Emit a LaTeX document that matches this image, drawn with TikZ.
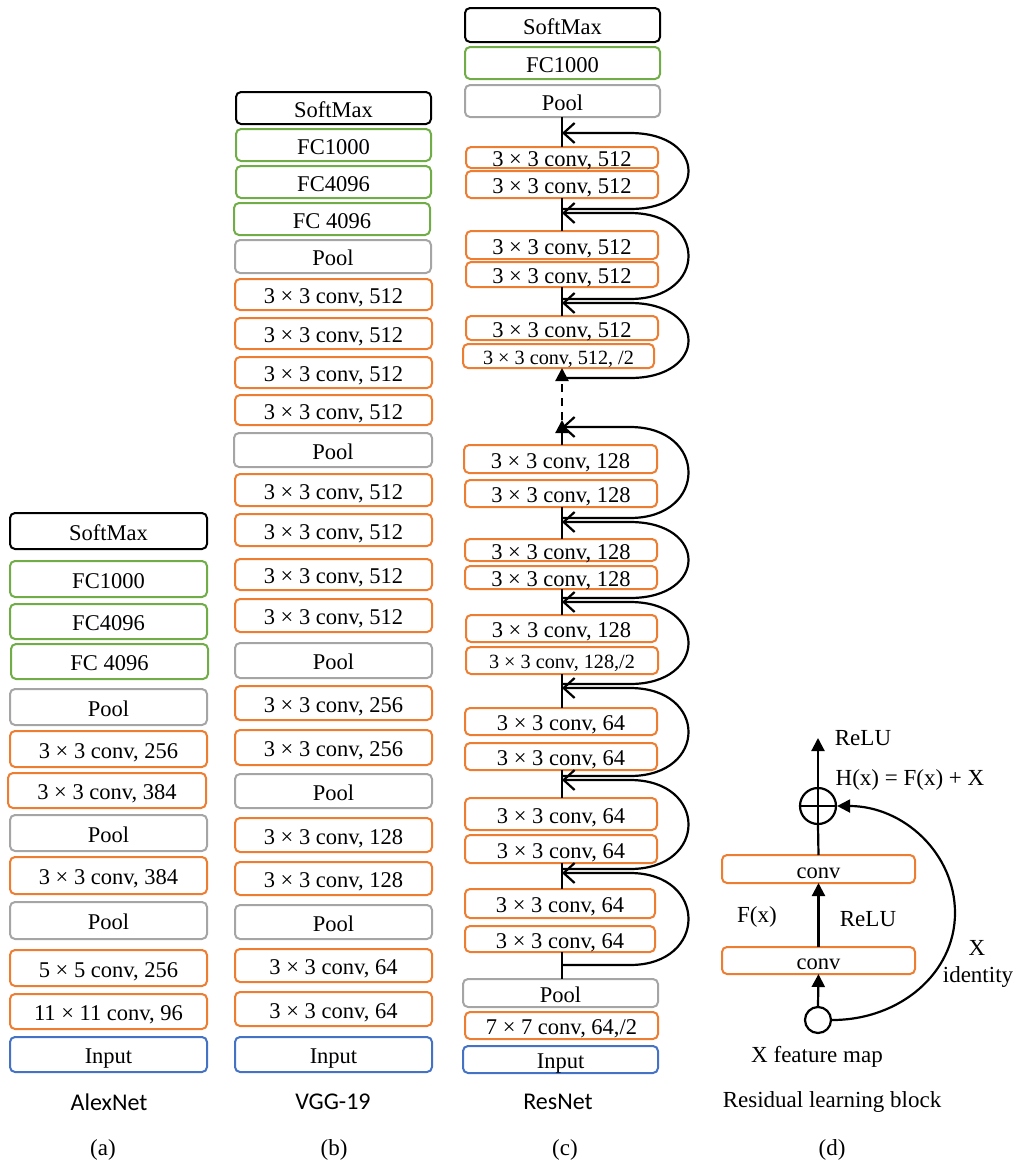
\documentclass[tikz,border=0pt]{standalone}
\usepackage{fontspec}
\setmainfont{Liberation Serif}
\newfontfamily\labelsans{Carlito}
\usetikzlibrary{arrows.meta,calc}
\definecolor{boxorange}{RGB}{237,125,49}
\definecolor{boxgreen}{RGB}{112,173,71}
\definecolor{boxgray}{RGB}{165,165,165}
\definecolor{boxblue}{RGB}{68,114,196}
\tikzset{
  box/.style={draw,rounded corners=5pt,line width=2pt,inner sep=0pt,outer sep=0pt,
    font=\fontsize{22.5}{24}\selectfont,text height=18pt,text depth=0pt},
  smalltxt/.style={font=\fontsize{20.2}{22}\selectfont,text height=16pt},
  ob/.style={draw=boxorange},
  gb/.style={draw=boxgreen},
  yb/.style={draw=boxgray},
  bb/.style={draw=boxblue},
  kb/.style={draw=black},
  conn/.style={line width=2.2pt},
  skiparrow/.style={line width=2.2pt,-{Straight Barb[length=11pt,width=20pt,line width=2.2pt]}},
  filltip/.style={line width=2.2pt,-{Triangle[length=13pt,width=13pt]}},
  lab/.style={font=\fontsize{23}{26}\selectfont},
  sanslab/.style={font=\labelsans\fontsize{24}{28}\selectfont},
}
\newcommand\bx[7]{\node[box,#2,minimum width={#5-#3},minimum height={#6-#4}] (#1) at ({(#3+#5)/2},{(#4+#6)/2}) {#7};}
\begin{document}
\begin{tikzpicture}[x=1pt,y=-1pt]
\useasboundingbox (0,0) rectangle (1020,1163);
% ---------------- AlexNet
\bx{asoft}{kb}{10}{513}{207}{549}{SoftMax}
\bx{afc1}{gb}{10}{561}{207}{597}{FC1000}
\bx{afc2}{gb}{10}{604}{207}{639}{FC4096}
\bx{afc3}{gb}{11}{644}{208}{679}{FC 4096}
\bx{apool1}{yb}{10}{689}{207}{725}{Pool}
\bx{aconv1}{ob}{10}{731}{207}{767}{3 × 3 conv, 256}
\bx{aconv2}{ob}{8}{773}{206}{808}{3 × 3 conv, 384}
\bx{apool2}{yb}{10}{815}{207}{851}{Pool}
\bx{aconv3}{ob}{10}{857}{207}{894}{3 × 3 conv, 384}
\bx{apool3}{yb}{10}{902}{207}{939}{Pool}
\bx{aconv4}{ob}{10}{950}{207}{986}{5 × 5 conv, 256}
\bx{aconv5}{ob}{10}{994}{207}{1029}{11 × 11 conv, 96}
\bx{ain}{bb}{10}{1037}{207}{1072}{Input}
\node[sanslab] (alab) at (109,1102) {AlexNet};
\node[lab] (acap) at (103,1150) {(a)};
% ---------------- VGG-19
\bx{vsoft}{kb}{236}{92}{431}{124}{SoftMax}
\bx{vfc1}{gb}{236}{129}{431}{161}{FC1000}
\bx{vfc2}{gb}{236}{166}{431}{198}{FC4096}
\bx{vfc3}{gb}{234}{203}{430}{235}{FC 4096}
\bx{vpool1}{yb}{235}{240}{431}{273}{Pool}
\bx{v1}{ob}{235}{279}{432}{310}{3 × 3 conv, 512}
\bx{v2}{ob}{235}{318}{432}{349}{3 × 3 conv, 512}
\bx{v3}{ob}{235}{357}{432}{388}{3 × 3 conv, 512}
\bx{v4}{ob}{235}{395}{432}{425}{3 × 3 conv, 512}
\bx{vpool2}{yb}{234}{433}{432}{467}{Pool}
\bx{v5}{ob}{235}{474}{432}{506}{3 × 3 conv, 512}
\bx{v6}{ob}{235}{514}{432}{546}{3 × 3 conv, 512}
\bx{v7}{ob}{235}{559}{432}{590}{3 × 3 conv, 512}
\bx{v8}{ob}{235}{599}{432}{632}{3 × 3 conv, 512}
\bx{vpool3}{yb}{235}{643}{432}{678}{Pool}
\bx{v9}{ob}{235}{686}{432}{720}{3 × 3 conv, 256}
\bx{v10}{ob}{235}{730}{432}{765}{3 × 3 conv, 256}
\bx{vpool4}{yb}{235}{774}{432}{808}{Pool}
\bx{v11}{ob}{235}{818}{432}{852}{3 × 3 conv, 128}
\bx{v12}{ob}{235}{862}{432}{895}{3 × 3 conv, 128}
\bx{vpool5}{yb}{235}{905}{432}{939}{Pool}
\bx{v13}{ob}{235}{949}{432}{982}{3 × 3 conv, 64}
\bx{v14}{ob}{235}{992}{432}{1026}{3 × 3 conv, 64}
\bx{vin}{bb}{235}{1037}{432}{1072}{Input}
\node[sanslab] (vlab) at (333,1102) {VGG-19};
\node[lab] (vcap) at (334,1150) {(b)};
% ---------------- ResNet
\bx{rsoft}{kb}{465}{8}{660}{42}{SoftMax}
\bx{rfc}{gb}{465}{47}{660}{79}{FC1000}
\bx{rpool1}{yb}{465}{85}{660}{117}{Pool}
\bx{c512a}{ob}{466}{147}{658}{168}{3 × 3 conv, 512}
\bx{c512b}{ob}{466}{171}{658}{198}{3 × 3 conv, 512}
\bx{c512c}{ob}{466}{231}{658}{259}{3 × 3 conv, 512}
\bx{c512d}{ob}{466}{262}{658}{287}{3 × 3 conv, 512}
\bx{c512e}{ob}{466}{316}{658}{340}{3 × 3 conv, 512}
\bx{c512f}{ob,smalltxt}{463}{344}{654}{368}{3 × 3 conv, 512, /2}
\bx{c128a}{ob}{464}{445}{657}{473}{3 × 3 conv, 128}
\bx{c128b}{ob}{465}{480}{657}{507}{3 × 3 conv, 128}
\bx{c128c}{ob}{465}{539}{657}{561}{3 × 3 conv, 128}
\bx{c128d}{ob}{465}{566}{657}{589}{3 × 3 conv, 128}
\bx{c128e}{ob}{466}{615}{657}{642}{3 × 3 conv, 128}
\bx{c128f}{ob,smalltxt}{466}{647}{658}{674}{3 × 3 conv, 128,/2}
\bx{c64a}{ob}{465}{708}{657}{735}{3 × 3 conv, 64}
\bx{c64b}{ob}{465}{743}{657}{770}{3 × 3 conv, 64}
\bx{c64c}{ob}{465}{798}{657}{830}{3 × 3 conv, 64}
\bx{c64d}{ob}{465}{835}{657}{863}{3 × 3 conv, 64}
\bx{c64e}{ob}{465}{889}{655}{918}{3 × 3 conv, 64}
\bx{c64f}{ob}{465}{926}{655}{952}{3 × 3 conv, 64}
\bx{rpool2}{yb}{463}{979}{658}{1007}{Pool}
\bx{c7}{ob}{465}{1012}{658}{1039}{7 × 7 conv, 64,/2}
\bx{rin}{bb}{463}{1046}{658}{1073}{Input}
\node[sanslab] (rlab) at (558,1102) {ResNet};
\node[lab] (rcap) at (565,1150) {(c)};
% junctions
\coordinate (j1) at (562,133);
\coordinate (j2) at (562,213);
\coordinate (j3) at (562,303);
\coordinate (j4) at (562,378);
\coordinate (dm) at (562,420);
\coordinate (j5) at (562,427);
\coordinate (j6) at (562,522);
\coordinate (j7) at (562,602);
\coordinate (j8) at (562,688);
\coordinate (j9) at (562,780);
\coordinate (j10) at (562,873);
\coordinate (j11) at (562,965);
% main trunk
\draw[conn] (j1 |- rpool1.south) -- (j1 |- c512a.north);
\draw[conn] (j1 |- c512b.south) -- (j1 |- c512c.north);
\draw[conn] (j1 |- c512d.south) -- (j1 |- c512e.north);
\draw[filltip,dash pattern=on 8pt off 6pt] (dm) -- (j1 |- c512f.south);
\draw[filltip] (j1 |- c128a.north) -- (dm);
\draw[conn] (j1 |- c128b.south) -- (j1 |- c128c.north);
\draw[conn] (j1 |- c128d.south) -- (j1 |- c128e.north);
\draw[conn] (j1 |- c128f.south) -- (j1 |- c64a.north);
\draw[conn] (j1 |- c64b.south) -- (j1 |- c64c.north);
\draw[conn] (j1 |- c64d.south) -- (j1 |- c64e.north);
\draw[conn] (j1 |- c64f.south) -- (j1 |- rpool2.north);
% skip connections
\foreach \b/\t/\o in {j11/j10/0,j10/j9/-4,j9/j8/-4,j8/j7/-4,j7/j6/-4,j6/j5/-4,j4/j3/0,j3/j2/-4,j2/j1/-4}{
  \draw[skiparrow] ($(\b)+(0,\o)$) -- ++(68,0) .. controls +(78,0) and +(78,0) .. ($(\t)+(68,0)$) -- (\t);
}
% ---------------- Residual block
\node[circle,draw,line width=2.2pt,minimum size=36pt,inner sep=0pt] (plus) at (818,806) {};
\draw[conn] (plus.north) -- (plus.south);
\draw[conn] (plus.west) -- (plus.east);
\coordinate (reluout) at (818,738);
\draw[filltip] (plus.north) -- (reluout);
\node[lab,anchor=center] (relutop) at (863,738) {ReLU};
\node[lab] (hx) at (910,780) {H(x) = F(x) + X};
\bx{conv2r}{ob}{722}{855}{915}{883}{conv}
\bx{conv1r}{ob}{722}{947}{915}{974}{conv}
\draw[conn] (conv2r.north) -- (plus.south);
\draw[filltip] (conv1r.north) -- (conv2r.south);
\node[lab] (fx) at (757,917) {F(x)};
\node[lab] (relumid) at (868,919) {ReLU};
\node[circle,draw,line width=2.2pt,minimum size=26pt,inner sep=0pt] (xin) at (818,1020) {};
\draw[filltip] (xin.north) -- (conv1r.south);
\draw[filltip] (xin.east) .. controls +(68,0) and +(0,60) .. (955,913) .. controls +(0,-60) and +(66,0) .. (plus.east);
\node[lab] (xl) at (977,948) {X};
\node[lab] (idl) at (978,977) {identity};
\node[lab] (xfm) at (817,1057) {X feature map};
\node[lab] (rlb) at (832,1102) {Residual learning block};
\node[lab] (dcap) at (832,1150) {(d)};
\end{tikzpicture}
\end{document}
